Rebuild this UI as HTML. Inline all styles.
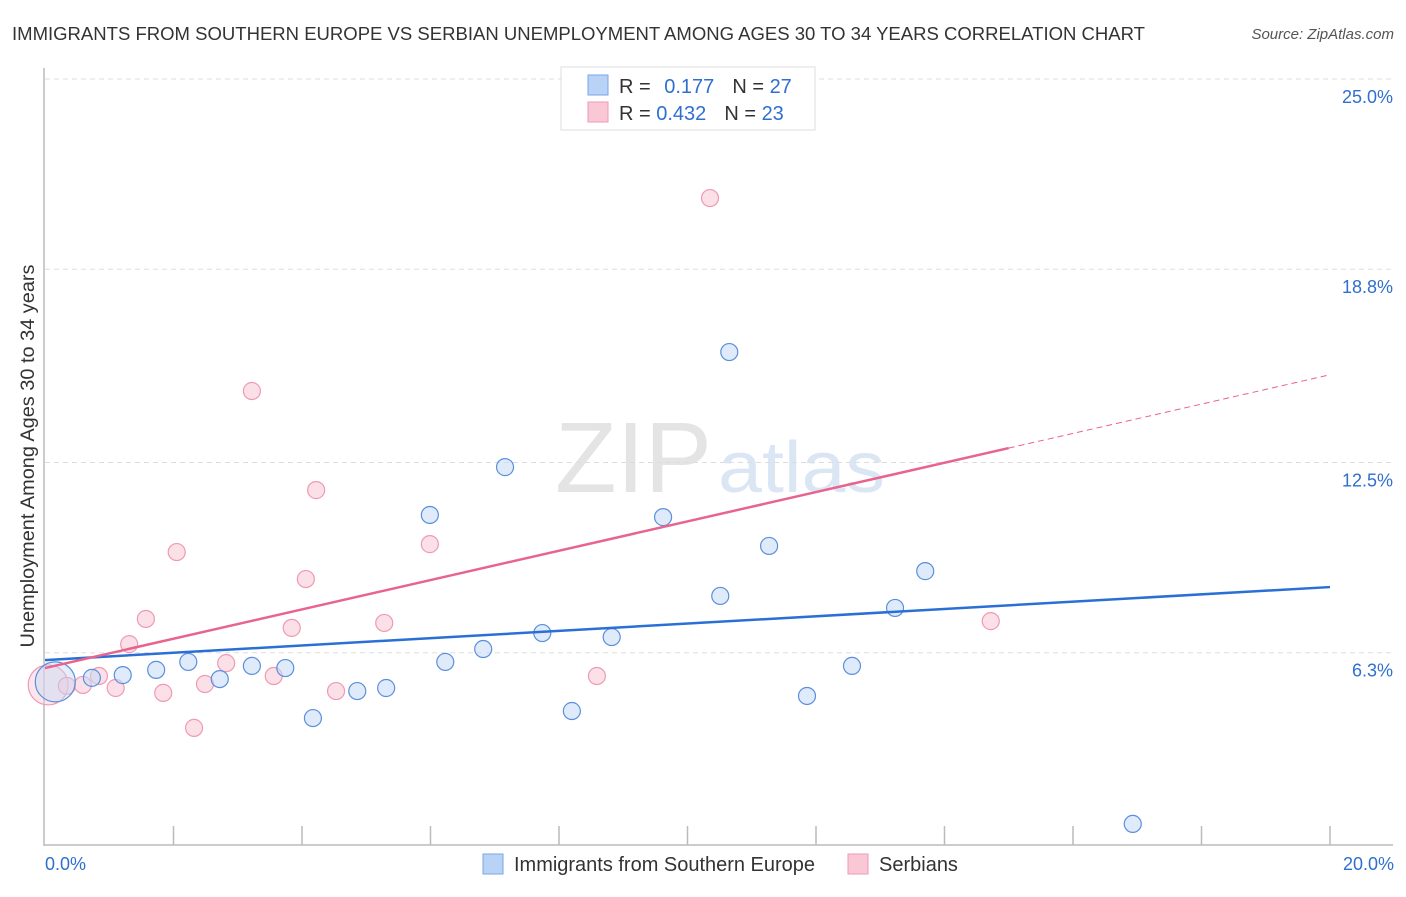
<!DOCTYPE html>
<html><head><meta charset="utf-8"><style>
body{margin:0;background:#fff;font-family:"Liberation Sans",sans-serif;}
svg text{font-family:"Liberation Sans",sans-serif;}
</style></head><body>
<svg id="c" width="1406" height="892">
<text x="12" y="40" font-size="18" fill="#333" textLength="1133" lengthAdjust="spacingAndGlyphs">IMMIGRANTS FROM SOUTHERN EUROPE VS SERBIAN UNEMPLOYMENT AMONG AGES 30 TO 34 YEARS CORRELATION CHART</text>
<text x="1394" y="39" font-size="15" fill="#555" font-style="italic" text-anchor="end">Source: ZipAtlas.com</text>
<text x="555" y="492" font-size="100" fill="#e4e4e4" textLength="157" lengthAdjust="spacingAndGlyphs" font-family="Liberation Serif">ZIP</text>
<text x="718" y="492" font-size="72" fill="#dbe6f5" textLength="167" lengthAdjust="spacingAndGlyphs">atlas</text>
<text transform="translate(34,456) rotate(-90)" font-size="19" fill="#333" text-anchor="middle" textLength="383" lengthAdjust="spacingAndGlyphs">Unemployment Among Ages 30 to 34 years</text>
<g id="grid"></g><g id="marks"></g>
<g>
<rect x="561" y="67" width="254" height="63" fill="#fff" stroke="#ddd"/>
<rect x="588" y="75" width="20" height="20" fill="#b8d3f5" stroke="#7aa6e6"/>
<rect x="588" y="102" width="20" height="20" fill="#f9c7d6" stroke="#ee9ab5"/>
<text x="619" y="93" font-size="20" fill="#333">R = <tspan fill="#2f6fd0" dx="8">0.177</tspan><tspan dx="18" fill="#333">N = </tspan><tspan fill="#2f6fd0">27</tspan></text>
<text x="619" y="120" font-size="20" fill="#333">R = <tspan fill="#2f6fd0">0.432</tspan><tspan dx="18" fill="#333">N = </tspan><tspan fill="#2f6fd0">23</tspan></text>
</g>
<g>
<rect x="483" y="854" width="20" height="20" fill="#b8d3f5" stroke="#7aa6e6"/>
<text x="514" y="871" font-size="20" fill="#333" textLength="301" lengthAdjust="spacingAndGlyphs">Immigrants from Southern Europe</text>
<rect x="848" y="854" width="20" height="20" fill="#f9c7d6" stroke="#ee9ab5"/>
<text x="879" y="871" font-size="20" fill="#333">Serbians</text>
</g>
</svg>
<script>
const yTicks=[25,18.8,12.5,6.3];
const yTickLabels=["25.0%","18.8%","12.5%","6.3%"];
const xTickLabels=["0.0%","20.0%"];
const blueX=[0.16,0.73,1.21,1.73,2.23,2.72,3.22,3.74,4.17,4.86,5.31,6.23,6.82,7.16,5.99,7.74,8.20,8.82,9.62,10.51,10.65,11.27,11.86,12.56,13.23,13.70,16.93];
const blueY=[5.35,5.48,5.57,5.74,6.00,5.44,5.87,5.80,4.17,5.05,5.15,6.00,6.42,12.35,10.79,6.94,4.40,6.81,10.72,8.15,16.10,9.78,4.89,5.87,7.76,8.96,0.72];
const pinkX=[0.05,0.34,0.59,0.84,1.10,1.31,1.57,1.84,2.05,2.32,2.49,2.82,3.22,3.56,3.84,4.06,4.22,4.53,5.28,5.99,8.59,10.35,14.72];
const pinkY=[5.25,5.22,5.25,5.54,5.15,6.58,7.40,4.99,9.58,3.85,5.28,5.96,14.83,5.54,7.11,8.70,11.60,5.05,7.27,9.84,5.54,21.12,7.33];
const blueTrend=[6.06,8.44];
const pinkTrend=[5.80,15.36];
const pinkSolidEnd=15.0;
const NS="http://www.w3.org/2000/svg";
const sx=v=>45+v*1285/20, sy=v=>846-v*767/25;
function mk(t,a,p){const e=document.createElementNS(NS,t);for(const k in a)e.setAttribute(k,a[k]);p.appendChild(e);return e;}
const grid=document.getElementById('grid'),marks=document.getElementById('marks');
yTicks.forEach((v,i)=>{
 const l=mk('line',{x1:45,x2:1395,y1:sy(v),y2:sy(v),stroke:'#ddd','stroke-dasharray':'5,4'},grid);
 
 
 const t=mk('text',{x:1393,y:sy(v)+24,'font-size':18,fill:'#2f6fd0','text-anchor':'end'},grid);
 t.textContent=yTickLabels[i];
 
 
});
let ax=mk('line',{x1:44,x2:44,y1:68,y2:846,stroke:'#bbb','stroke-width':1.5},grid);


ax=mk('line',{x1:44,x2:1393,y1:845,y2:845,stroke:'#bbb','stroke-width':1.5},grid);


for(let v=2;v<=20;v+=2){const t=mk('line',{x1:sx(v),x2:sx(v),y1:826,y2:845,stroke:'#bbb','stroke-width':1.5},grid);
 
 }
[[0,'start',45],[20,'end',1394]].forEach((a,i)=>{const t=mk('text',{x:a[2],y:870,'font-size':18,fill:'#2f6fd0','text-anchor':a[1]},grid);t.textContent=xTickLabels[i];
 
 });
function pts(X,Y,fill,stroke,name){X.forEach((x,i)=>{const big=i===0;
 const c=mk('circle',{cx:sx(x),cy:sy(Y[i]),r:big?20:8.5,fill:fill,'fill-opacity':big?0.45:0.55,stroke:stroke,'stroke-width':1.2},marks);
 
 });}
pts(pinkX,pinkY,'#f9c7d6','#ee9ab5','serbians-point');
pts(blueX,blueY,'#c5daf5','#5b8fdc','immigrants-point');
let l=mk('line',{x1:sx(0),y1:sy(blueTrend[0]),x2:sx(20),y2:sy(blueTrend[1]),stroke:'#2a6fd6','stroke-width':2.5},marks);


const pAt=x=>pinkTrend[0]+(pinkTrend[1]-pinkTrend[0])*x/20;
l=mk('line',{x1:sx(0),y1:sy(pinkTrend[0]),x2:sx(pinkSolidEnd),y2:sy(pAt(pinkSolidEnd)),stroke:'#e8648f','stroke-width':2.5},marks);


l=mk('line',{x1:sx(pinkSolidEnd),y1:sy(pAt(pinkSolidEnd)),x2:sx(20),y2:sy(pinkTrend[1]),stroke:'#e8648f','stroke-width':1,'stroke-dasharray':'6,4'},marks);


</script>
</body></html>
